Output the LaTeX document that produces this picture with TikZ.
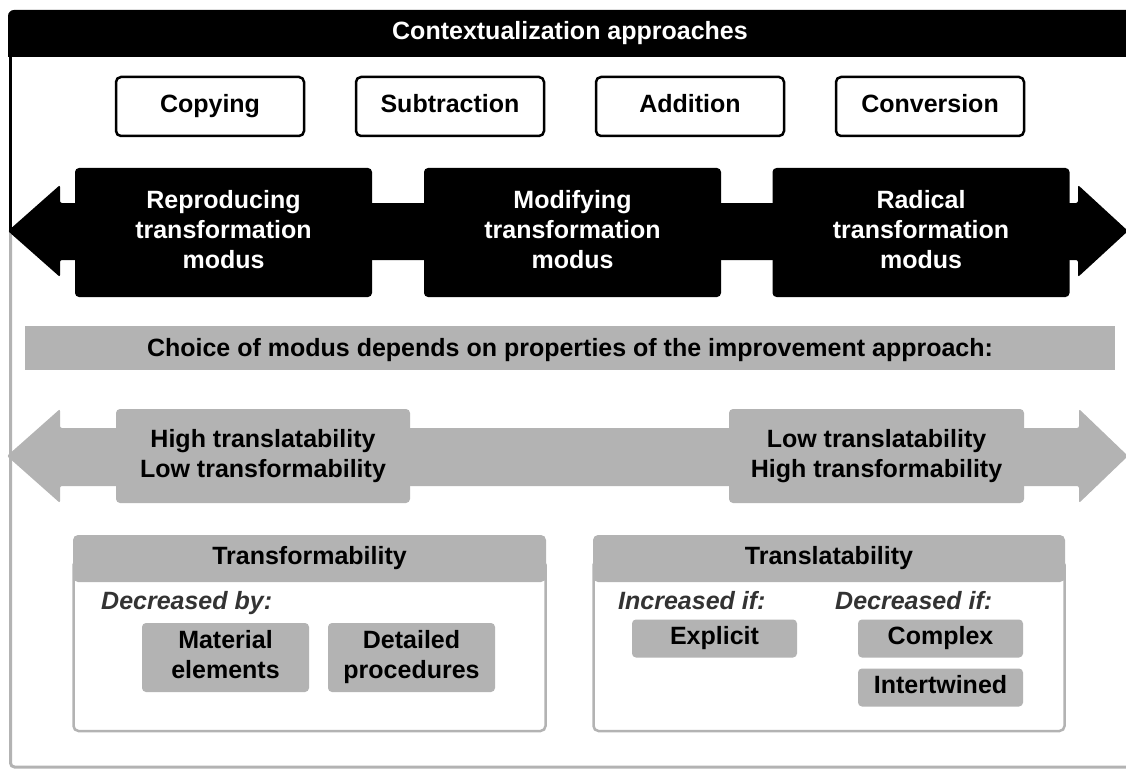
\documentclass[tikz,border=0pt]{standalone}
\usepackage{fontspec}
\setmainfont{Liberation Sans}
\definecolor{lgray}{HTML}{B3B3B3}
\definecolor{dgray}{HTML}{333333}
\begin{document}
\begin{tikzpicture}[x=1pt,y=-1pt,
  font=\fontsize{25}{30}\selectfont\bfseries,
  wbox/.style={draw=black, line width=2.5pt, fill=white, rounded corners=5pt,
    minimum width=188pt, minimum height=59pt, inner sep=0pt},
  bbox/.style={fill=black, text=white, rounded corners=4pt, align=center,
    minimum width=297pt, minimum height=129pt, inner sep=0pt},
  gbox/.style={fill=lgray, rounded corners=4pt, align=center, inner sep=0pt},
  hdr/.style={fill=lgray, rounded corners=5pt, minimum width=473pt, minimum height=47pt, inner sep=0pt},
  panel/.style={draw=lgray, line width=2.5pt, fill=white, rounded corners=5pt},
  note/.style={font=\fontsize{25}{30}\selectfont\bfseries\itshape, text=dgray, anchor=base west, inner sep=0pt}
]
\useasboundingbox (0,0) rectangle (1126,770);
% outer frame
\draw[black, line width=3.5pt] (10.5,50) -- (10.5,232);
\draw[lgray, line width=3pt, rounded corners=4pt] (10.5,232) -- (10.5,767) -- (1135,767);
% title bar
\fill[black] (8,57) [rounded corners=6pt]-- (8,10) [sharp corners]-- (1140,10) -- (1140,57) -- cycle;
\node[text=white, inner sep=0pt] (title) at (570,34) {\strut Contextualization approaches};
% approaches
\node[wbox] (copy) at (210,106.5) {\strut Copying};
\node[wbox] (sub) at (450,106.5) {\strut Subtraction};
\node[wbox] (add) at (690,106.5) {\strut Addition};
\node[wbox] (conv) at (930,106.5) {\strut Conversion};
% black double arrow
\fill[black, rounded corners=2pt] (8,231) -- (60,185) -- (60,203) -- (1078,203) -- (1078,185)
  -- (1128,231) -- (1078,277) -- (1078,260) -- (60,260) -- (60,277) -- cycle;
\node[bbox] (repro) at (223.5,232.5) {\strut Reproducing\\\strut transformation\\\strut modus};
\node[bbox] (modif) at (572.5,232.5) {\strut Modifying\\\strut transformation\\\strut modus};
\node[bbox] (radic) at (921,232.5) {\strut Radical\\\strut transformation\\\strut modus};
% choice bar
\fill[lgray] (25,326) rectangle (1115,370);
\node[inner sep=0pt] (choice) at (570,350)
  {\strut Choice of modus depends on properties of the improvement approach:};
% gray double arrow
\fill[lgray, rounded corners=2pt] (7,456) -- (60,409) -- (60,428) -- (1079,428) -- (1079,409)
  -- (1128,456) -- (1079,503) -- (1079,486) -- (60,486) -- (60,503) -- cycle;
\node[gbox, minimum width=294pt, minimum height=94pt] (high) at (263,456)
  {\strut High translatability\\\strut Low transformability};
\node[gbox, minimum width=295pt, minimum height=94pt] (low) at (876.5,456)
  {\strut Low translatability\\\strut High transformability};
% transformability panel
\draw[panel] (73.5,560) rectangle (545.5,731);
\node[hdr] (tfh) at (309.5,558.5) {\strut Transformability};
\node[note] (decby) at (101,609) {Decreased by:};
\node[gbox, minimum width=167pt, minimum height=69pt] (mat) at (225.5,657.5) {\strut Material\\\strut elements};
\node[gbox, minimum width=167pt, minimum height=69pt] (det) at (411.5,657.5) {\strut Detailed\\\strut procedures};
% translatability panel
\draw[panel] (593.5,560) rectangle (1064.5,731);
\node[hdr, minimum width=472pt] (tlh) at (829,558.5) {\strut Translatability};
\node[note] (incif) at (618,609) {Increased if:};
\node[note] (decif) at (835,609) {Decreased if:};
\node[gbox, minimum width=165pt, minimum height=38pt] (expl) at (714.5,638.5) {\strut Explicit};
\node[gbox, minimum width=165pt, minimum height=38pt] (cmpl) at (940.5,638.5) {\strut Complex};
\node[gbox, minimum width=165pt, minimum height=38pt] (intw) at (940.5,687.5) {\strut Intertwined};
\end{tikzpicture}
\end{document}
